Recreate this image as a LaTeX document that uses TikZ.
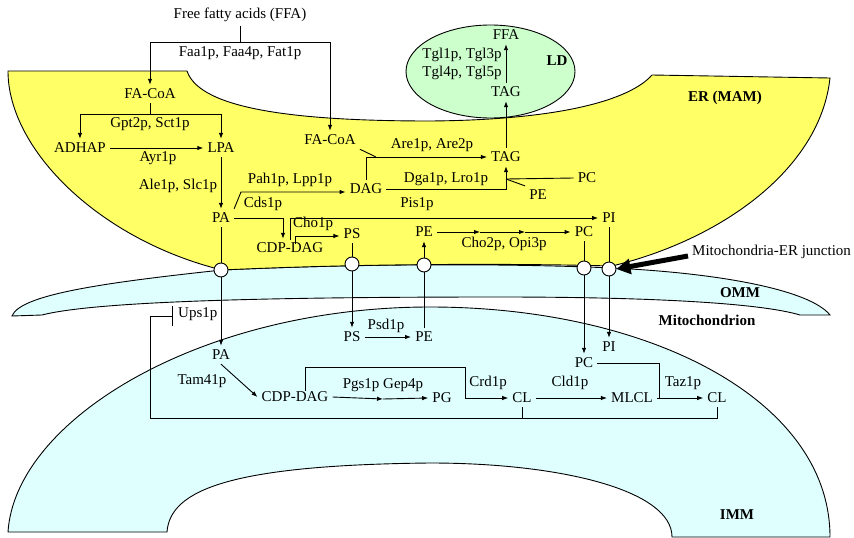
\documentclass[tikz,border=0pt]{standalone}
\usepackage{fontspec}
\setmainfont{Liberation Serif}
\usetikzlibrary{arrows.meta}
\definecolor{eryellow}{HTML}{FFFF66}
\definecolor{mitocyan}{HTML}{DFFFFF}
\definecolor{ldgreen}{HTML}{CCFFCC}
\begin{document}
\begin{tikzpicture}[x=1pt,y=-1pt,
  every node/.style={inner sep=4pt, font=\fontsize{15}{17}\selectfont},
  bold/.style={font=\fontsize{15}{17}\selectfont\bfseries},
  ln/.style={line width=0.9pt},
  arr/.style={line width=0.9pt,-{Latex[length=6pt,width=4.5pt]}},
  junc/.style={circle, draw, fill=white, minimum size=14pt, inner sep=0pt, line width=0.9pt},
  membrane/.style={draw=black, line width=0.9pt}]
\useasboundingbox (0,0) rectangle (854,538);

% IMM
\filldraw[membrane, fill=mitocyan] (8,532) .. controls (15,420) and (200,307) .. (430,307)
  .. controls (650,307) and (830,400) .. (830,537) -- (672,537)
  .. controls (672,490) and (560,463) .. (430,463)
  .. controls (230,465) and (170,490) .. (167,532) -- cycle;
% OMM
\filldraw[membrane, fill=mitocyan] (222,270) .. controls (350,264) and (500,263) .. (612,268)
  .. controls (720,273) and (810,290) .. (830,315) -- (800,315)
  .. controls (760,303) and (650,297) .. (500,297)
  .. controls (300,297) and (100,300) .. (42,315) -- (12,316)
  .. controls (20,295) and (100,283) .. (222,270) -- cycle;
% ER
\filldraw[membrane, fill=eryellow] (8,71) -- (187,71)
  .. controls (200,110) and (300,121) .. (430,121)
  .. controls (560,120) and (630,100) .. (652,75) -- (830,78)
  .. controls (820,170) and (720,240) .. (612,266)
  .. controls (500,263) and (350,264) .. (222,270)
  .. controls (100,240) and (8,150) .. (8,71) -- cycle;
% LD
\filldraw[membrane, fill=ldgreen] (490.5,71.5) ellipse [x radius=84.5pt, y radius=46.5pt];

% compartment labels
\node[bold] (ld) at (557,61) {LD};
\node[bold] (er) at (725,98) {ER (MAM)};
\node[bold] (omm) at (740,293) {OMM};
\node[bold] (mito) at (707,320) {Mitochondrion};
\node[bold] (imm) at (737,515) {IMM};

% top
\node (ffa) at (240,15) {Free fatty acids (FFA)};
\node (faa) at (240,53) {Faa1p, Faa4p, Fat1p};
\node (facoa1) at (150,94) {FA-CoA};
\node (facoa2) at (330,140) {FA-CoA};
\node (gpt) at (150,124) {Gpt2p, Sct1p};
\node (adhap) at (80,148) {ADHAP};
\node (lpa) at (221,148) {LPA};
\node (ayr) at (158,158) {Ayr1p};
\node (ale) at (178,186) {Ale1p, Slc1p};
\node (pa1) at (221,218) {PA};
\node (pah) at (290,180) {Pah1p, Lpp1p};
\node (dag) at (366,189) {DAG};
\node (are) at (432,145) {Are1p, Are2p};
\node (tag1) at (506,157) {TAG};
\node (dga) at (446,179) {Dga1p, Lro1p};
\node (pc0) at (587,178) {PC};
\node (pe0) at (538,195) {PE};
\node (tag2) at (506,92) {TAG};
\node (ffa2) at (506,35) {FFA};
\node (tgl1) at (462,55) {Tgl1p, Tgl3p};
\node (tgl2) at (462,73) {Tgl4p, Tgl5p};
\node (cds) at (263,204) {Cds1p};
\node (cdp1) at (290,248) {CDP-DAG};
\node (pis) at (417,204) {Pis1p};
\node (pi1) at (609,218) {PI};
\node (cho1) at (313,224) {Cho1p};
\node (ps1) at (352,234) {PS};
\node (pe1) at (424,232) {PE};
\node (pc1) at (584,232) {PC};
\node (cho2) at (504,244) {Cho2p, Opi3p};

% junctions
\node[junc] (j1) at (221,270) {};
\node[junc] (j2) at (352,264) {};
\node[junc] (j3) at (424,265) {};
\node[junc] (j4) at (584,268) {};
\node[junc] (j5) at (609,269) {};
\node[anchor=west] (mej) at (688,252) {Mitochondria-ER junction};

% mitochondrion
\node[anchor=west] (ups) at (174,314) {Ups1p};
\node (pa2) at (221,355) {PA};
\node (ps2) at (352,337) {PS};
\node (psd) at (386,326) {Psd1p};
\node (pe2) at (424,337) {PE};
\node (pi2) at (609,347) {PI};
\node (pc2) at (584,363) {PC};
\node (tam) at (202,381) {Tam41p};
\node (cdp2) at (295,397) {CDP-DAG};
\node (pgs) at (383,385) {Pgs1p Gep4p};
\node (pg) at (442,398) {PG};
\node (crd) at (488,383) {Crd1p};
\node (cl1) at (522,398) {CL};
\node (cld) at (570,383) {Cld1p};
\node (mlcl) at (632,398) {MLCL};
\node (taz) at (683,383) {Taz1p};
\node (cl2) at (717,398) {CL};

% coordinates
\coordinate (fsplit) at (240,42);
\coordinate (gsplit) at (150,114);
\coordinate (pabend) at (241,192);
\coordinate (arej) at (376,157);
\coordinate (tagjoin) at (506,179);
\coordinate (m1) at (480,232);
\coordinate (m2) at (525,232);
\coordinate (m3) at (383,399);
\coordinate (crdbend) at (465,367);
\coordinate (tazjoin) at (659,399);
\coordinate (lb) at (150,418);
\coordinate (ubar) at (173,316);

% connectors (ER)
\draw[ln] (ffa.south) -- (fsplit);
\draw[arr] (fsplit) -| (facoa1.north);
\draw[arr] (fsplit) -| (facoa2.north);
\draw[ln] (facoa1.south) -- (gsplit);
\draw[arr] (gsplit) -| (adhap.north);
\draw[arr] (gsplit) -| (lpa.north);
\draw[arr] (adhap) -- (lpa);
\draw[arr] (lpa) -- (pa1);
\draw[arr] (pa1.north east) -- (pabend) -- (pabend -| dag.west);
\draw[ln] (facoa2.south east) -- (arej);
\draw[arr] (dag.north) |- (tag1.west);
\draw[arr] (dag.east) -| (tag1.south);
\draw[ln] (pc0.west) -- (tagjoin);
\draw[ln] (pe0.north west) -- (tagjoin);
\draw[arr] (tag1.north) -- (tag2.south);
\draw[arr] (tag2.north) -- (ffa2.south);
\draw[arr] (pa1.east) -| ([xshift=-7pt]cdp1.north);
\draw[arr] ([yshift=8pt]cdp1.center) |- (pi1.west);
\draw[arr] ([xshift=5pt,yshift=4pt]cdp1.center) |- ([yshift=-2pt]ps1.west);
\draw[ln] (ps1) -- (j2);
\draw[arr] (j2) -- (ps2);
\draw[ln] (pe2) -- (j3);
\draw[arr] (j3) -- (pe1);
\draw[arr] (pe1.east) -- (m1);
\draw[arr] (m1) -- (m2);
\draw[arr] (m2) -- (pc1.west);
\draw[ln] (pc1) -- (j4);
\draw[arr] (j4) -- (pc2);
\draw[ln] (pi1) -- (j5);
\draw[arr] (j5) -- (pi2);
\draw[ln] (pa1) -- (j1);
\draw[arr] (j1) -- (pa2);
\draw[line width=5pt, -{Triangle[length=14pt,width=15pt]}] ([yshift=-4pt]mej.west) -- (j5.east);

% connectors (mitochondrion)
\draw[arr] (ps2) -- (pe2);
\draw[arr] (pa2.south) -- (cdp2.west);
\draw[arr] (cdp2.east) -- (m3);
\draw[arr] (m3) -- (pg.west);
\draw[arr] ([xshift=10pt,yshift=6pt]cdp2.center) |- (crdbend) |- (cl1.west);
\draw[arr] (cl1) -- (mlcl);
\draw[arr] (mlcl.east) -- (cl2.west);
\draw[ln] (pc2.east) -| (tazjoin);
\draw[ln] (cl1.south) -- (cl1.south |- lb);
\draw[line width=0.9pt, -{Bar[width=20pt,line width=0.9pt]}] (cl2.south) |- (lb) |- (ubar);
\end{tikzpicture}
\end{document}
